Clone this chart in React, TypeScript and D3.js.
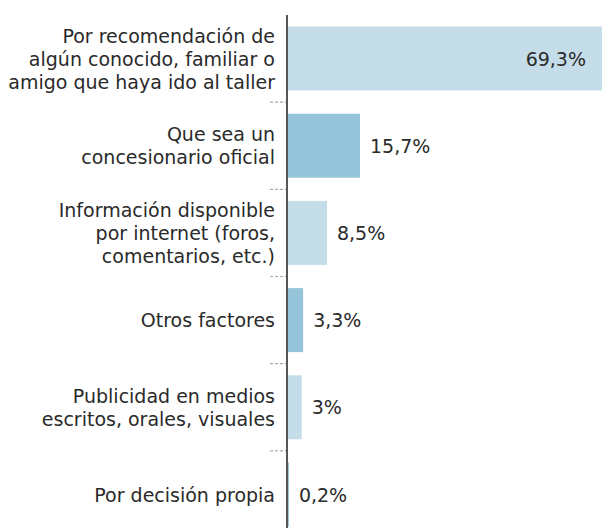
import React from "react";
import * as d3 from "d3";

const categories = [
  ["Por recomendación de", "algún conocido, familiar o", "amigo que haya ido al taller"],
  ["Que sea un", "concesionario oficial"],
  ["Información disponible", "por internet (foros,", "comentarios, etc.)"],
  ["Otros factores"],
  ["Publicidad en medios", "escritos, orales, visuales"],
  ["Por decisión propia"],
];
const values = [69.3, 15.7, 8.5, 3.3, 3, 0.2];
const valueLabels = ["69,3%", "15,7%", "8,5%", "3,3%", "3%", "0,2%"];
const barColors = ["#c5dde9", "#96c4db"];

const W = 602;
const H = 528;
const X0 = 288;
const FONT = "'DejaVu Sans', sans-serif";

export default function App() {
  const ids = categories.map((_, i) => String(i));
  const y = d3
    .scaleBand<string>()
    .domain(ids)
    .range([14.9, 14.9 + 6 * 87.2])
    .paddingInner(0.266)
    .paddingOuter(0.133);
  const x = d3.scaleLinear().domain([0, 15.7]).range([X0, 360]);
  const bw = y.bandwidth();
  const step = y.step();
  const lh = 23;

  return (
    <svg
      width={W}
      height={H}
      style={{ position: "absolute", left: 0, top: 0, display: "block" }}
      fontFamily={FONT}
    >
      {ids.map((id, i) => {
        const top = y(id)!;
        const cy = top + bw / 2;
        const xe = x(values[i]);
        const lines = categories[i];
        const inside = xe > W - 40;
        return (
          <g key={id}>
            <rect x={X0} y={top} width={Math.max(0, xe - X0)} height={bw} fill={barColors[i % 2]} />
            {lines.map((ln, j) => (
              <text
                key={j}
                x={275}
                y={cy + (j - (lines.length - 1) / 2) * lh + 7}
                textAnchor="end"
                fontSize={19}
                fill="#2a2a2a"
              >
                {ln}
              </text>
            ))}
            <text
              x={inside ? 586 : xe + 10}
              y={cy + 7}
              textAnchor={inside ? "end" : "start"}
              fontSize={19}
              fill="#2a2a2a"
            >
              {valueLabels[i]}
            </text>
            {i < ids.length - 1 && (
              <line
                x1={270}
                x2={286}
                y1={top + bw + (step - bw) / 2}
                y2={top + bw + (step - bw) / 2}
                stroke="#aaa"
                strokeWidth={1.2}
                strokeDasharray="3,2"
              />
            )}
          </g>
        );
      })}
      <line x1={287} x2={287} y1={15} y2={H} stroke="#555" strokeWidth={2} />
    </svg>
  );
}
